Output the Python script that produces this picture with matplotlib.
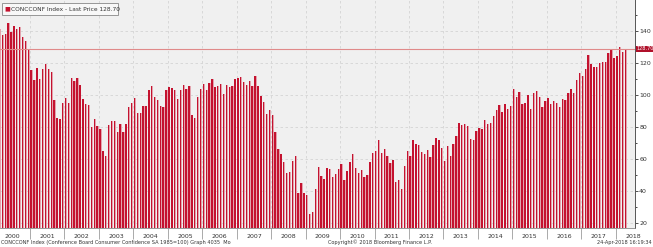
"""Consumer confidence bars, Bloomberg style."""

import numpy as np
import matplotlib
matplotlib.use('Agg')
import matplotlib.pyplot as plt
from matplotlib.patches import Rectangle

# monthly values, Jan-2000 .. Apr-2018
years = list(range(2000, 2019))
conf = {
    2000: [144.7, 140.8, 137.1, 137.7, 144.7, 139.2, 143.0, 140.8, 142.5, 135.8, 133.5, 128.6],
    2001: [115.7, 109.2, 116.9, 109.9, 116.1, 118.9, 116.3, 114.0, 97.0, 85.3, 84.9, 94.6],
    2002: [97.8, 95.0, 110.7, 108.5, 110.3, 106.3, 97.4, 94.5, 93.7, 79.6, 84.9, 80.7],
    2003: [78.8, 64.8, 61.4, 81.0, 83.6, 83.5, 77.0, 81.7, 77.0, 81.7, 92.5, 94.8],
    2004: [97.7, 88.5, 88.5, 93.0, 93.1, 102.8, 105.7, 98.7, 96.7, 92.9, 92.6, 102.7],
    2005: [105.1, 104.4, 103.0, 97.5, 103.1, 106.2, 103.6, 105.5, 87.5, 85.2, 98.3, 103.8],
    2006: [106.8, 102.7, 107.5, 109.8, 104.7, 105.4, 107.0, 100.2, 105.9, 105.1, 105.3, 110.0],
    2007: [110.2, 111.2, 108.2, 106.3, 108.5, 105.3, 111.9, 105.6, 99.5, 95.2, 87.8, 90.6],
    2008: [87.3, 76.4, 65.9, 62.8, 58.1, 51.0, 51.9, 58.5, 61.4, 38.8, 44.7, 38.6],
    2009: [37.4, 25.3, 26.9, 40.8, 54.8, 49.3, 47.4, 54.5, 53.4, 48.7, 50.6, 53.6],
    2010: [56.5, 46.4, 52.3, 57.7, 62.7, 54.3, 51.0, 53.2, 48.6, 49.9, 57.8, 63.4],
    2011: [64.8, 72.0, 63.8, 66.0, 61.7, 57.6, 59.2, 45.2, 46.4, 40.9, 55.2, 64.8],
    2012: [61.5, 71.6, 69.5, 68.7, 64.4, 62.7, 65.4, 61.3, 68.4, 73.1, 71.5, 66.7],
    2013: [58.4, 68.0, 61.9, 69.0, 74.3, 82.1, 81.0, 81.8, 80.2, 72.4, 72.0, 77.5],
    2014: [79.4, 78.3, 83.9, 81.7, 82.2, 86.4, 90.3, 93.4, 89.0, 94.1, 91.0, 93.1],
    2015: [103.8, 98.8, 101.4, 94.3, 94.6, 99.8, 91.0, 101.3, 102.6, 98.6, 92.6, 96.3],
    2016: [97.8, 94.0, 96.1, 94.7, 92.4, 97.4, 96.7, 101.1, 103.5, 100.8, 109.4, 113.7],
    2017: [111.8, 116.1, 124.9, 119.4, 117.6, 117.3, 120.0, 120.4, 120.6, 126.2, 128.6, 123.1],
    2018: [124.3, 130.0, 127.0, 128.7],
}
last_price = 128.70
title = 'CONCCONF Index - Last Price 128.70'
footer_left = 'CONCCONF Index (Conference Board Consumer Confidence SA 1985=100) Graph 4035  Mo'
footer_mid = 'Copyright\u00a9 2018 Bloomberg Finance L.P.'
footer_right = '24-Apr-2018 16:19:34'

values = np.concatenate([conf[y] for y in years])
x = 2000 + (np.arange(len(values)) + 0.5) / 12.0

dark = '#c4122f'
pink = '#e3a3ad'

fig = plt.figure(figsize=(6.53, 2.47), dpi=100)
fig.patch.set_facecolor('white')
ax = fig.add_axes([0.0, 0.077, 0.9724, 0.923])
ax.set_facecolor('#f0f0f0')

# two-tone bars
w = 1 / 12.0
ax.bar(x - 0.1 * w, values, width=0.5 * w, color=dark, linewidth=0, zorder=3)
ax.bar(x + 0.28 * w, values, width=0.28 * w, color=pink, linewidth=0, zorder=3)

ax.set_xlim(2000 + 4.45 / 34.45, 2018 + 19.3 / 34.45)
ax.set_ylim(16.7, 159.2)

# last price line + tag
ax.axhline(last_price, color='#e08a8a', lw=0.8, zorder=4)
ax.text(1.003, last_price, '128.70', transform=ax.get_yaxis_transform(),
        ha='left', va='center', fontsize=3.6, color='white', zorder=6,
        bbox=dict(boxstyle='square,pad=0.15', fc='#b0102a', ec='none'),
        clip_on=False)

# grid
ax.set_yticks(np.arange(20, 141, 20))
ax.set_yticks(np.arange(30, 151, 20), minor=True)
bounds = np.arange(2001, 2019)
ax.set_xticks(bounds)
ax.set_xticklabels([])
ax.set_xticks(np.arange(2000, 2019) + 0.5, minor=True)
ax.set_xticklabels([str(y) for y in range(2000, 2019)], minor=True)
ax.grid(True, which='major', color='#d4d4d4', ls=(0, (3, 3)), lw=0.6, zorder=0)

ax.yaxis.tick_right()
ax.tick_params(axis='y', which='major', length=2, width=0.6, pad=1,
               labelsize=4.5, colors='#333333')
ax.tick_params(axis='y', which='minor', length=1.5, width=0.5)
ax.tick_params(axis='x', which='major', length=8, width=0.5, color='#888888')
ax.tick_params(axis='x', which='minor', length=0, pad=4.5, labelsize=4.5,
               labelcolor='#333333')

for side in ['top', 'left']:
    ax.spines[side].set_visible(False)
ax.spines['right'].set_color('#555555')
ax.spines['bottom'].set_color('#888888')
ax.spines['right'].set_linewidth(0.7)
ax.spines['bottom'].set_linewidth(0.6)

# legend box
fig.patches.append(Rectangle((0.003, 0.939), 0.178, 0.049, transform=fig.transFigure,
                             fc='#f8f8f8', ec='#888888', lw=0.6, zorder=5))
fig.text(0.007, 0.963, '\u25a0', fontsize=4.4, color=dark, va='center', ha='left', zorder=6)
fig.text(0.017, 0.963, title, fontsize=4.2, color='#333333',
         va='center', ha='left', zorder=6)

# footer
fig.text(0.002, 0.008, footer_left, fontsize=3.6, color='#333333', ha='left', va='bottom')
fig.text(0.582, 0.008, footer_mid, fontsize=3.6, color='#333333', ha='center', va='bottom')
fig.text(0.998, 0.008, footer_right, fontsize=3.6, color='#333333', ha='right', va='bottom')

fig.savefig('out.png', dpi=100)
